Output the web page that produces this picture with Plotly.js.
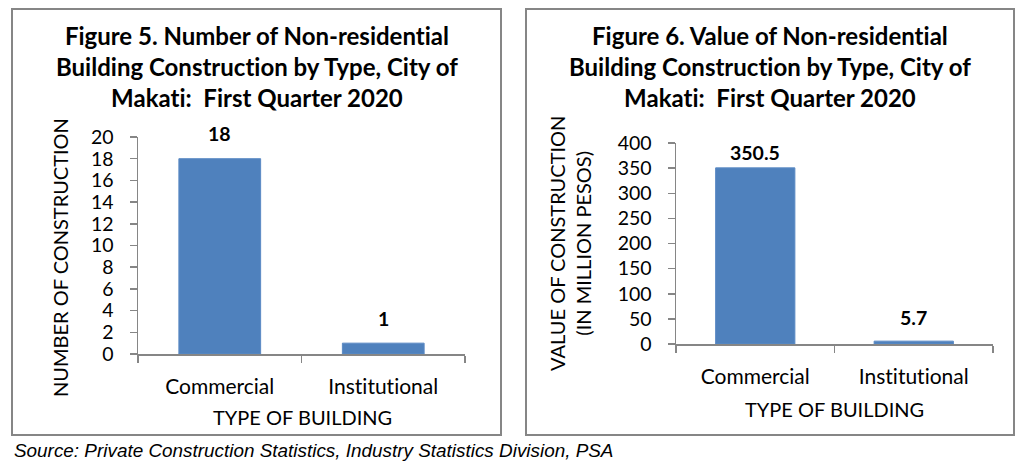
<!DOCTYPE html>
<html><head><meta charset="utf-8">
<script src="https://cdn.plot.ly/plotly-3.0.1.min.js"></script>
<style>html,body{margin:0;padding:0;background:#fff}#chart{width:1022px;height:465px}
svg text{font-variant-ligatures:none;font-feature-settings:"liga" 0,"clig" 0}</style>
</head><body><div id="chart"></div>
<script>
const categories = ["Commercial", "Institutional"];
const countValues = [18, 1];
const valueValues = [350.5, 5.7];
const countLabels = ["18", "1"];
const valueLabels = ["350.5", "5.7"];
const countTicks = [0, 2, 4, 6, 8, 10, 12, 14, 16, 18, 20];
const valueTicks = [0, 50, 100, 150, 200, 250, 300, 350, 400];

const W = 1022, H = 465;
const px = x => x / W, py = y => 1 - y / H;
const FONT = "Lato, 'Open Sans', sans-serif";
const BAR = "#4F81BD", AX = "#868686";

const barTrace = (vals, xa, ya) => ({
  type: "bar", x: categories, y: vals, xaxis: xa, yaxis: ya,
  marker: {color: BAR, line: {color: "#5b8ac4", width: 1}}, width: 0.5,
  hoverinfo: "none", showlegend: false, cliponaxis: false
});

const xaxisBase = dom => ({
  domain: dom, type: "category", showline: true, linecolor: AX, linewidth: 1.5,
  ticks: "outside", tickson: "boundaries", ticklen: 7, tickcolor: AX, tickwidth: 1.5,
  showgrid: false, zeroline: false, fixedrange: true,
  tickfont: {family: FONT, size: 21, color: "#000"}, ticklabelstandoff: 13
});
const yaxisBase = (dom, range, ticks) => ({
  domain: dom, range: range, tickvals: ticks, ticktext: ticks.map(String),
  showline: true, linecolor: AX, linewidth: 1.5, ticks: "outside", ticklen: 7,
  tickcolor: AX, tickwidth: 1.5, showgrid: false, zeroline: false, fixedrange: true,
  tickfont: {family: FONT, size: 19.5, color: "#000"}, ticklabelstandoff: 12
});

const titleFont = {family: FONT, size: 24, color: "#000", weight: "bold"};
const labelFont = {family: FONT, size: 20, color: "#000"};
const annotations = [];
// titles
annotations.push({xref: "paper", yref: "paper", x: px(257), y: py(67), xanchor: "center", yanchor: "middle",
  text: "<b>Figure 5. Number of Non-residential<br>Building Construction by Type, City of<br>Makati:  First Quarter 2020</b>",
  showarrow: false, font: titleFont, align: "center"});
annotations.push({xref: "paper", yref: "paper", x: px(770), y: py(66), xanchor: "center", yanchor: "middle",
  text: "<b>Figure 6. Value of Non-residential<br>Building Construction by Type, City of<br>Makati:  First Quarter 2020</b>",
  showarrow: false, font: titleFont, align: "center"});
// y axis titles
annotations.push({xref: "paper", yref: "paper", x: px(60), y: py(258), xanchor: "center", yanchor: "middle",
  text: "NUMBER OF CONSTRUCTION", textangle: -90, showarrow: false, font: labelFont});
annotations.push({xref: "paper", yref: "paper", x: px(570), y: py(244), xanchor: "center", yanchor: "middle",
  text: "VALUE OF CONSTRUCTION<br>(IN MILLION PESOS)", textangle: -90, showarrow: false, font: labelFont, align: "center"});
// x axis titles
annotations.push({xref: "paper", yref: "paper", x: px(302), y: py(417), xanchor: "center", yanchor: "middle",
  text: "TYPE OF BUILDING", showarrow: false, font: labelFont});
annotations.push({xref: "paper", yref: "paper", x: px(834), y: py(409), xanchor: "center", yanchor: "middle",
  text: "TYPE OF BUILDING", showarrow: false, font: labelFont});
// data labels
const dlFont = {family: FONT, size: 19.5, color: "#000", weight: "bold"};
const shiftsL = [12, 11], shiftsR = [2, 10];
categories.forEach((c, i) => {
  annotations.push({xref: "x", yref: "y", x: c, y: countValues[i], yanchor: "bottom",
    text: "<b>" + countLabels[i] + "</b>", showarrow: false, font: dlFont, yshift: shiftsL[i]});
  annotations.push({xref: "x2", yref: "y2", x: c, y: valueValues[i], yanchor: "bottom",
    text: "<b>" + valueLabels[i] + "</b>", showarrow: false, font: dlFont, yshift: shiftsR[i]});
});
// source
annotations.push({xref: "paper", yref: "paper", x: px(12), y: py(450), xanchor: "left", yanchor: "middle",
  text: "<i>Source: Private Construction Statistics, Industry Statistics Division, PSA</i>",
  showarrow: false, font: {family: "'Liberation Sans', Arial, sans-serif", size: 18.9, color: "#000"}});

const shapes = [
  {type: "rect", xref: "paper", yref: "paper", x0: px(12), x1: px(501), y0: py(435), y1: py(9), line: {color: AX, width: 2}},
  {type: "rect", xref: "paper", yref: "paper", x0: px(526), x1: px(1014), y0: py(435), y1: py(9), line: {color: AX, width: 2}}
];

const layout = {
  width: W, height: H, margin: {l: 0, r: 0, t: 0, b: 0},
  paper_bgcolor: "#fff", plot_bgcolor: "#fff", showlegend: false,
  xaxis: xaxisBase([px(138), px(465)]),
  yaxis: yaxisBase([py(354), py(137)], [0, 20], countTicks),
  xaxis2: Object.assign(xaxisBase([px(676), px(993)]), {anchor: "y2"}),
  yaxis2: Object.assign(yaxisBase([py(344), py(143)], [0, 400], valueTicks), {anchor: "x2"}),
  annotations: annotations, shapes: shapes
};
layout.xaxis.anchor = "y";
layout.yaxis.anchor = "x";

Plotly.newPlot("chart", [barTrace(countValues, "x", "y"), barTrace(valueValues, "x2", "y2")], layout, {displayModeBar: false, staticPlot: true});
</script></body></html>
